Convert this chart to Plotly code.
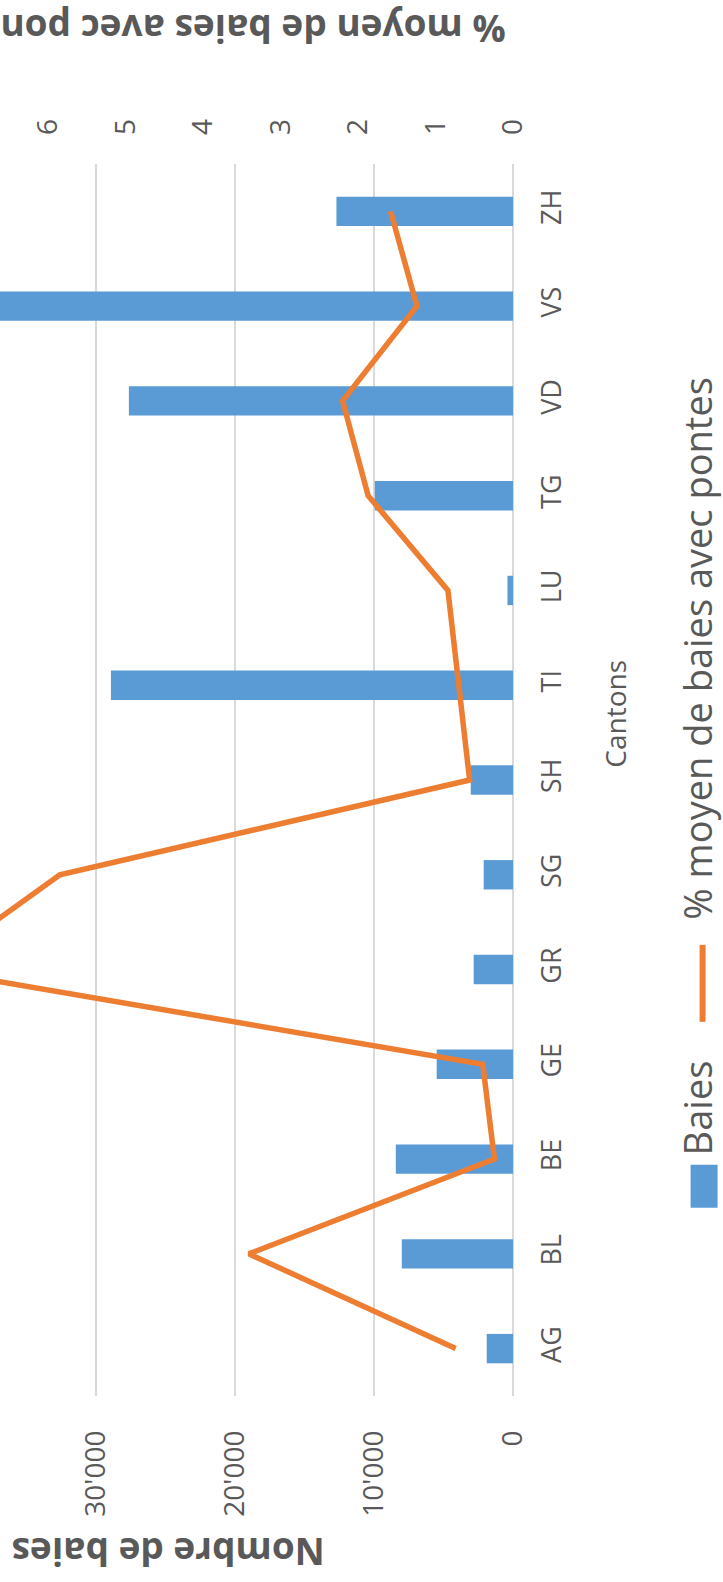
import plotly.graph_objects as go

# ---------------- data ----------------
cantons = ["AG", "BL", "BE", "GE", "GR", "SG", "SH", "TI", "LU", "TG", "VD", "VS", "ZH"]
baies = [1890, 8000, 8430, 5490, 2830, 2110, 3040, 28920, 400, 9940, 27630, 38000, 12700]
pct_pontes = [0.74, 3.41, 0.24, 0.39, 7.55, 5.85, 0.56, 0.70, 0.84, 1.87, 2.20, 1.24, 1.58]
baies_tickvals = [0, 10000, 20000, 30000]
baies_ticktext = ["0", "10'000", "20'000", "30'000"]
pct_tickvals = [0, 1, 2, 3, 4, 5, 6]
pct_ticktext = ["0", "1", "2", "3", "4", "5", "6"]

series_bar = "Baies"
series_line = "% moyen de baies avec pontes"
title_bar_axis = "Nombre de baies"
title_line_axis = "% moyen de baies avec pontes"
title_cat_axis = "Cantons"

# ---------------- layout geometry ----------------
W, H = 723, 1582
plot_left, plot_right = 0.0, 513.3
plot_top, plot_bottom = 163.6, 1396.4

BLUE = "#5B9BD5"
ORANGE = "#ED7D31"
GREY = "#595959"
GRID = "#D9D9D9"
FONT = "Open Sans"


def px(x):
    return (x - plot_left) / (plot_right - plot_left)


def py(y):
    return (plot_bottom - y) / (plot_bottom - plot_top)


fig = go.Figure()
fig.add_trace(go.Bar(
    y=cantons, x=baies, orientation="h", name=series_bar,
    marker=dict(color=BLUE, line=dict(width=0)), width=0.31,
    xaxis="x", yaxis="y",
))
fig.add_trace(go.Scatter(
    y=cantons, x=pct_pontes, mode="lines", name=series_line,
    line=dict(color=ORANGE, width=5.5),
    xaxis="x2", yaxis="y",
))

fig.update_layout(
    width=W, height=H,
    margin=dict(l=plot_left, r=W - plot_right, t=plot_top, b=H - plot_bottom, pad=0, autoexpand=False),
    paper_bgcolor="white", plot_bgcolor="white",
    showlegend=False,
    font=dict(family=FONT, color=GREY),
    xaxis=dict(
        range=[36900, 0], tickvals=baies_tickvals, ticktext=baies_ticktext,
        tickangle=-90, showgrid=True, gridcolor=GRID, gridwidth=1.5,
        zeroline=True, zerolinecolor=GRID, zerolinewidth=1.5,
        showline=False, ticks="", ticklabelstandoff=28,
        tickfont=dict(size=28, color=GREY, family=FONT),
    ),
    xaxis2=dict(
        range=[6.623, 0], overlaying="x", side="top",
        tickvals=pct_tickvals, ticktext=pct_ticktext, tickangle=-90,
        showgrid=False, zeroline=False, showline=False, ticks="",
        ticklabelstandoff=28,
        tickfont=dict(size=28, color=GREY, family=FONT),
    ),
    yaxis=dict(
        type="category", categoryorder="array", categoryarray=cantons,
        range=[-0.5, len(cantons) - 0.5], side="right",
        tickangle=-90, showgrid=False, zeroline=False, showline=False,
        ticks="", ticklabelstandoff=20,
        tickfont=dict(size=27, color=GREY, family=FONT),
    ),
)

annotations = [
    dict(text="<b>" + title_bar_axis + "</b>", x=px(168), y=py(1553), textangle=180,
         font=dict(size=37, color=GREY, family=FONT)),
    dict(text="<b>" + title_line_axis + "</b>", x=px(225), y=py(29), textangle=180,
         font=dict(size=37, color=GREY, family=FONT)),
    dict(text=title_cat_axis, x=px(615), y=py(714), textangle=-90,
         font=dict(size=28, color=GREY, family=FONT)),
    dict(text=series_bar, x=px(697), y=py(1108), textangle=-90,
         font=dict(size=38, color=GREY, family=FONT)),
    dict(text=series_line, x=px(697), y=py(648), textangle=-90,
         font=dict(size=38, color=GREY, family=FONT)),
]
for a in annotations:
    a.update(xref="paper", yref="paper", xanchor="center", yanchor="middle", showarrow=False)
fig.update_layout(annotations=annotations)

fig.add_shape(type="rect", xref="paper", yref="paper",
              x0=px(691), x1=px(718), y0=py(1208), y1=py(1165),
              fillcolor=BLUE, line=dict(width=0))
fig.add_shape(type="line", xref="paper", yref="paper",
              x0=px(703), x1=px(703), y0=py(1022), y1=py(945),
              line=dict(color=ORANGE, width=6))

fig.write_html("out.html")
